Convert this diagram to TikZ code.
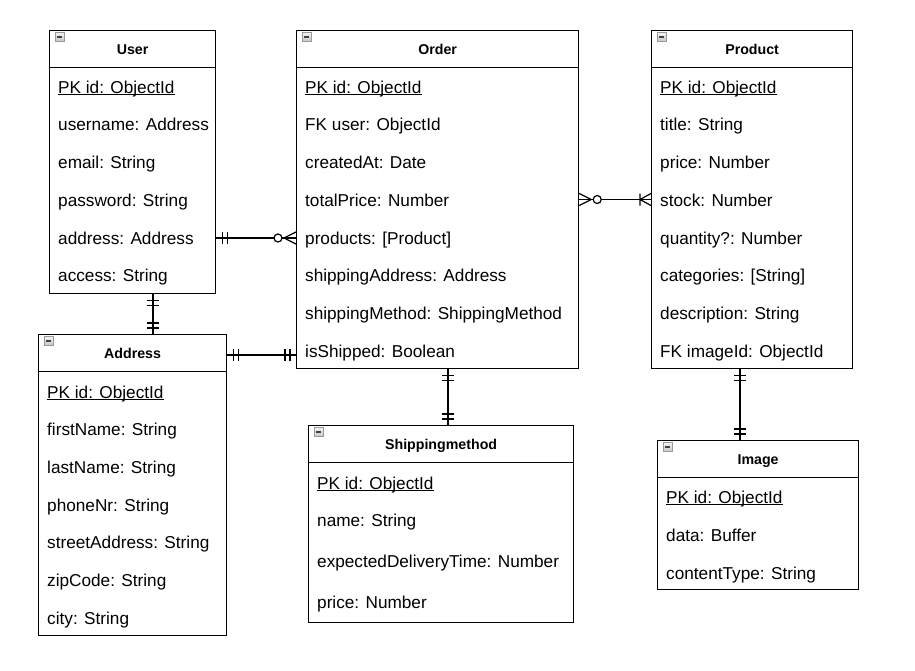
\documentclass[tikz,border=0pt]{standalone}
\usepackage{fontspec}
\setmainfont{Liberation Sans}
\usetikzlibrary{calc}

% underlined primary key text
\newcommand\pkul[1]{\setbox0\hbox{#1}\rlap{\rule[-2.2pt]{\wd0}{0.9pt}}\box0}

\tikzset{
  erline/.style={draw=black, line width=1.2pt},
  erbox/.style={erline, rectangle, inner sep=0pt, anchor=north west},
  ertitle/.style={inner sep=0pt, font=\fontsize{14.2}{17}\selectfont\bfseries},
  errow/.style={inner sep=0pt, anchor=base west, font=\fontsize{17.2}{20}\selectfont},
  conn/.style={draw=black, line width=1.2pt},
  iconbox/.style={draw=gray!80, top color=gray!10, bottom color=gray!45, line width=0.7pt},
  iconbar/.style={draw=black!75, line width=1.3pt},
  pics/mandOne/.style={code={\draw[conn] (6,-6)--(6,6) (11,-6)--(11,6);}},
  pics/zeroMany/.style={code={%
    \draw[conn] (12,0)--(0,-6) (12,0)--(0,6);
    \draw[conn, fill=white] (18,0) circle[radius=4pt];}},
  pics/oneMany/.style={code={\draw[conn] (11,-6)--(11,6) (11,0)--(0,-6) (11,0)--(0,6);}},
}

% table frame: name, left, top, right, bottom, title
\newcommand\ertable[6]{%
  \node[erbox, minimum width={#4pt-#2pt}, minimum height={#5pt-#3pt}] (#1) at (#2,#3) {};
  \draw[erline] ([yshift=-37.5pt]#1.north west) -- ([yshift=-37.5pt]#1.north east);
  \node[ertitle, anchor=base] (#1-title) at ([yshift=-24.5pt]#1.north) {#6};
  \draw[iconbox] ([xshift=6pt,yshift=-2.5pt]#1.north west) rectangle ++(9,9);
  \draw[iconbar] ([xshift=8pt,yshift=-7pt]#1.north west) -- ++(5,0);
}
% table rows: name, left, list of y/text
\newcommand\errows[3]{%
  \foreach \yy/\tt [count=\i] in {#3} {
    \node[errow] (#1-\i) at (#2+9, \yy+6) {\tt};
  }
}

\begin{document}
\begin{tikzpicture}[x=1pt, y=-1pt]
\useasboundingbox (0,0) rectangle (915,670);

% ---- entities ----
\ertable{user}{49}{30}{215}{293}{User}
\errows{user}{49}{87/\pkul{PK id: ObjectId}, 124.75/username: Address, 162.5/email: String,
  200.25/password: String, 238/address: Address, 275.75/access: String}

\ertable{order}{296}{30}{578}{368}{Order}
\errows{order}{296}{87/\pkul{PK id: ObjectId}, 124.75/FK user: ObjectId, 162.5/createdAt: Date,
  200.25/totalPrice: Number, 238/{products: [Product]}, 275.75/shippingAddress: Address,
  313.5/shippingMethod: ShippingMethod, 351.25/isShipped: Boolean}

\ertable{product}{651}{30}{852}{368}{Product}
\errows{product}{651}{87/\pkul{PK id: ObjectId}, 124.75/title: String, 162.5/price: Number,
  200.25/stock: Number, 238/quantity?: Number, 275.75/{categories: [String]},
  313.5/description: String, 351.25/FK imageId: ObjectId}

\ertable{address}{38}{334}{226}{635}{Address}
\errows{address}{38}{392/\pkul{PK id: ObjectId}, 429.7/firstName: String, 467.4/lastName: String,
  505.1/phoneNr: String, 542.8/streetAddress: String, 580.5/zipCode: String, 618.2/city: String}

\ertable{shipping}{308}{425}{573}{622}{Shippingmethod}
\errows{shipping}{308}{483/\pkul{PK id: ObjectId}, 520/name: String,
  561/expectedDeliveryTime: Number, 602/price: Number}

\ertable{image}{657}{440}{858}{589}{Image}
\errows{image}{657}{497/\pkul{PK id: ObjectId}, 535/data: Buffer, 573/contentType: String}

% ---- relationship lines ----
\coordinate (uo) at (0,238);
\coordinate (op) at (0,199.5);
\coordinate (ao) at (0,355);
\coordinate (ua) at (153,0);
\coordinate (os) at (448,0);
\coordinate (pi) at (740,0);

% User -- Order
\draw[conn] (user.east |- uo) -- (order.west |- uo);
\pic at (user.east |- uo) {mandOne};
\pic[rotate=180] at (order.west |- uo) {zeroMany};

% Order -- Product
\draw[conn] (order.east |- op) -- (product.west |- op);
\pic at (order.east |- op) {zeroMany};
\pic[rotate=180] at (product.west |- op) {oneMany};

% User -- Address
\draw[conn] (user.south -| ua) -- (address.north -| ua);
\pic[rotate=-90] at (user.south -| ua) {mandOne};
\pic[rotate=90] at (address.north -| ua) {mandOne};

% Address -- Order
\draw[conn] (address.east |- ao) -- (order.west |- ao);
\pic at (address.east |- ao) {mandOne};
\pic[rotate=180] at (order.west |- ao) {mandOne};

% Order -- Shippingmethod
\draw[conn] (order.south -| os) -- (shipping.north -| os);
\pic[rotate=-90] at (order.south -| os) {mandOne};
\pic[rotate=90] at (shipping.north -| os) {mandOne};

% Product -- Image
\draw[conn] (product.south -| pi) -- (image.north -| pi);
\pic[rotate=-90] at (product.south -| pi) {mandOne};
\pic[rotate=90] at (image.north -| pi) {mandOne};
\end{tikzpicture}
\end{document}
